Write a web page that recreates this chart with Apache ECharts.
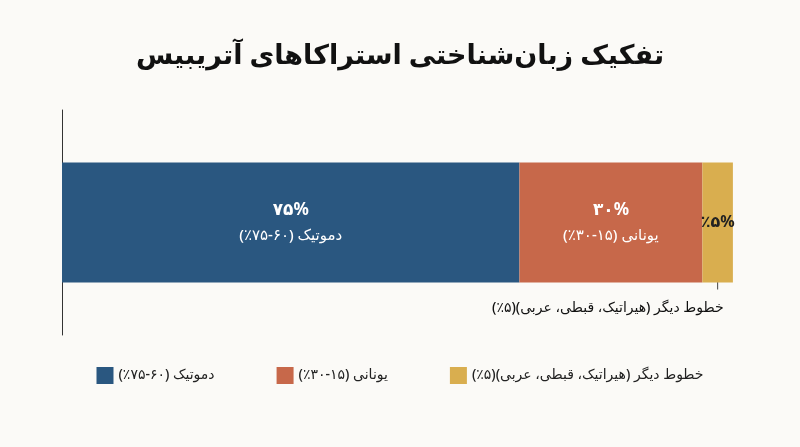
<!DOCTYPE html>
<html><head><meta charset="utf-8">
<script src="https://cdn.jsdelivr.net/npm/echarts@6/dist/echarts.min.js"></script>
<style>html,body{margin:0;background:#fbfaf7}#c{width:800px;height:447px}</style>
</head><body><div id="c"></div>
<script>
var categories = ['آتریبیس'];
var seriesNames = ['دموتیک (۶۰-۷۵٪)', 'یونانی (۱۵-۳۰٪)', 'خطوط دیگر (هیراتیک، قبطی، عربی)(۵٪)'];
var values = [75, 30, 5];
var pctLabels = ['۷۵%', '۳۰%', '٪۵%'];
var colors = ['#2a5780', '#c7684a', '#d9ae4f'];

var font = '"Noto Sans", "DejaVu Sans", sans-serif';
var myChart = echarts.init(document.getElementById('c'));
var series = values.map(function (v, i) {
    return {
        name: seriesNames[i],
        type: 'bar',
        stack: 'all',
        barWidth: 120,
        data: [v],
        itemStyle: { color: colors[i] },
        label: {
            show: true,
            position: 'inside',
            color: i === 2 ? '#222' : '#fff',
            fontFamily: font,
            fontSize: i === 2 ? 16 : 15,
            fontWeight: i === 2 ? 'bold' : 500,
            lineHeight: 24,
            formatter: i === 2 ? pctLabels[i] : '{p|' + pctLabels[i] + '}\n' + seriesNames[i],
            rich: { p: { fontSize: 17, fontWeight: 'bold', color: '#fff', fontFamily: font, lineHeight: 26 } }
        }
    };
});
myChart.setOption({
    backgroundColor: '#fbfaf7',
    title: {
        text: 'تفکیک زبان‌شناختی استراکاهای آتریبیس',
        left: 'center', top: 38,
        textStyle: { fontFamily: font, fontSize: 27, fontWeight: 900, color: '#111' }
    },
    legend: {
        bottom: 58, left: 'center', itemGap: 62, itemWidth: 17, itemHeight: 17,
        icon: 'rect',
        data: seriesNames,
        textStyle: { fontFamily: font, fontSize: 14, fontWeight: 500, color: '#222' }
    },
    grid: { left: 62, right: 61, top: 110, bottom: 112 },
    xAxis: { type: 'value', min: 0, max: 111, show: false },
    yAxis: {
        type: 'category', data: categories,
        axisLine: { show: true, lineStyle: { color: '#333' } },
        axisTick: { show: false }, axisLabel: { show: false }
    },
    series: series
});
// callout for the small segment
var px = myChart.convertToPixel({ xAxisIndex: 0, yAxisIndex: 0 }, [values[0] + values[1] + values[2] / 2, 0]);
myChart.setOption({
    graphic: [
        { type: 'line', shape: { x1: px[0], y1: px[1] + 47, x2: px[0], y2: px[1] + 67 }, style: { stroke: '#444', lineWidth: 1 } },
        { type: 'text', x: px[0] + 6, y: px[1] + 86, style: { text: seriesNames[2], fill: '#111', font: '500 14px ' + font, align: 'right', verticalAlign: 'middle' } }
    ]
});
</script></body></html>
